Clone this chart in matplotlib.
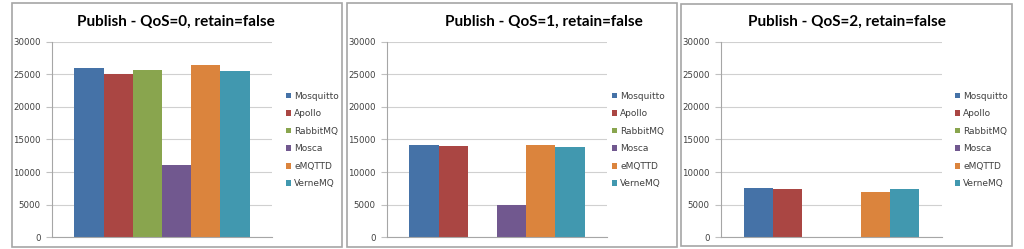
import matplotlib.pyplot as plt
from matplotlib.patches import Rectangle

brokers = ['Mosquitto', 'Apollo', 'RabbitMQ', 'Mosca', 'eMQTTD', 'VerneMQ']
colors = ['#4572A7', '#AA4643', '#89A54E', '#71588F', '#DB843D', '#4198AF']

qos0 = [26050, 25150, 25650, 11050, 26400, 25550]
qos1 = [14200, 14000, 0, 5000, 14100, 13850]
qos2 = [7500, 7350, 0, 0, 7000, 7400]

titles = ['Publish - QoS=0, retain=false',
          'Publish - QoS=1, retain=false',
          'Publish - QoS=2, retain=false']
yticks = [0, 5000, 10000, 15000, 20000, 25000, 30000]

W, H = 1024, 249
fig = plt.figure(figsize=(W / 100, H / 100), dpi=100)

# pixel layout: (box left, box right, box top, box bottom, axes left, axes right, legend x, title x)
panels = [
    (12, 342, 3, 247, 52, 272, 286, 176),
    (347, 677, 3, 247, 387, 607, 612, 544),
    (681, 1012, 4, 246, 721, 942, 955, 847),
]
data = [qos0, qos1, qos2]

for (bl, br, bt, bb, al, ar, lx, tx), vals, title in zip(panels, data, titles):
    fig.patches.append(Rectangle((bl / W, 1 - bb / H), (br - bl) / W, (bb - bt) / H,
                                 transform=fig.transFigure, fill=False,
                                 edgecolor='#A6A6A6', linewidth=1.2))
    ax = fig.add_axes([al / W, 1 - 237 / H, (ar - al) / W, (237 - 42) / H])
    n = len(vals)
    x = list(range(n))
    handles = ax.bar(x, vals, width=1.0, color=colors, edgecolor='none')
    ax.set_xlim(-0.5 - 0.77, n - 0.5 + 0.77)
    ax.set_ylim(0, 30000)
    ax.set_yticks(yticks)
    ax.set_yticklabels([str(v) for v in yticks], fontsize=6.2, color='#404040')
    ax.set_xticks([])
    ax.yaxis.grid(True, color='#D0D0D0', linewidth=0.8)
    ax.set_axisbelow(True)
    for s in ['top', 'right']:
        ax.spines[s].set_visible(False)
    ax.spines['left'].set_color('#A6A6A6')
    ax.spines['bottom'].set_color('#A6A6A6')
    ax.tick_params(axis='y', length=4, color='#C0C0C0', pad=4)
    fig.text(tx / W, 1 - 22 / H, title, ha='center', va='center',
             fontsize=11, fontweight='bold', family=['Lato', 'DejaVu Sans'])
    leg = fig.legend(handles, brokers, loc='center left',
                     bbox_to_anchor=(lx / W, 1 - 140 / H),
                     frameon=False, fontsize=6.5, handlelength=0.6,
                     handleheight=0.6, handletextpad=0.3, labelspacing=0.95,
                     borderaxespad=0, borderpad=0)
    for t in leg.get_texts():
        t.set_color('#404040')

fig.savefig('out.png', dpi=100)
